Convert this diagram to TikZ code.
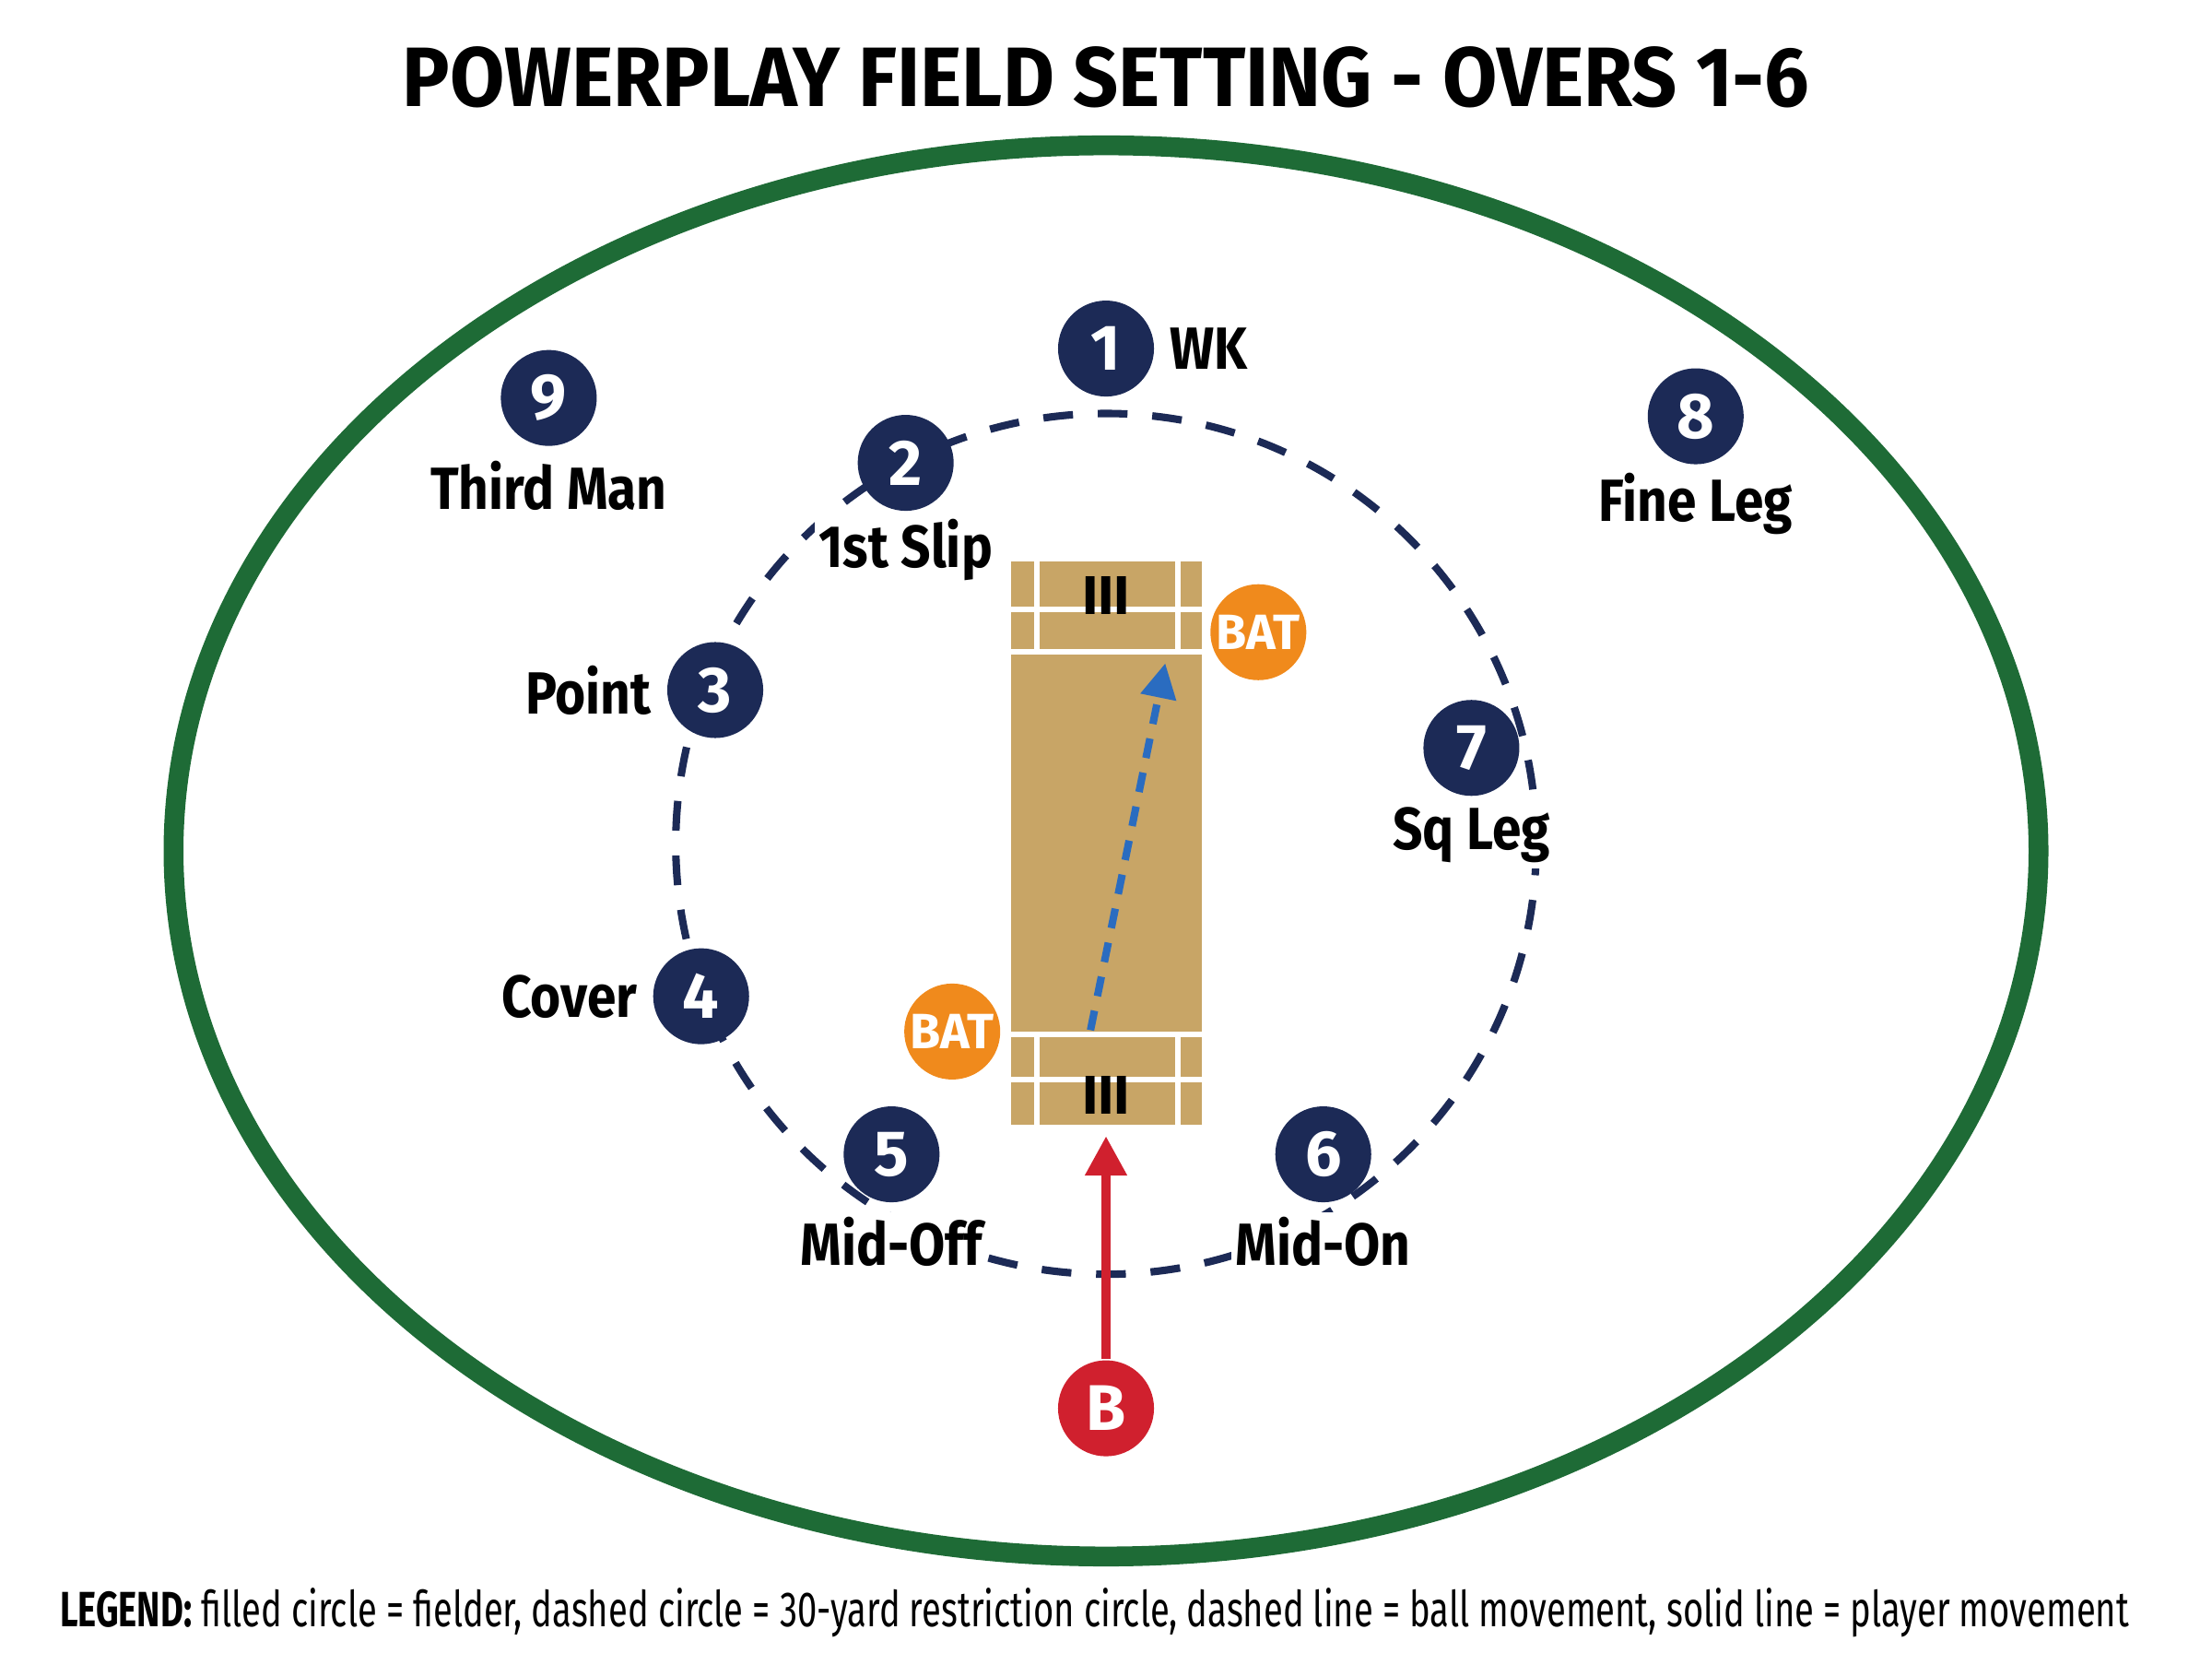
\documentclass[tikz,border=0pt]{standalone}
\usepackage{fontspec}
\setmainfont{Fira Sans}
\usetikzlibrary{arrows.meta}
\definecolor{navy}{HTML}{1C2A56}
\definecolor{field}{HTML}{1E6B36}
\definecolor{pitch}{HTML}{C8A566}
\definecolor{batc}{HTML}{F08A1C}
\definecolor{bowl}{HTML}{D0202E}
\definecolor{ballc}{HTML}{2A6CC0}
\tikzset{
    fielder/.style={shape=circle, fill=navy, text=white, minimum size=0.68cm, inner sep=0pt, font=\bfseries\fontsize{13}{13}\selectfont},
    bat/.style={shape=circle, fill=batc, text=white, minimum size=0.68cm, inner sep=0pt, font=\bfseries\fontsize{10}{10}\selectfont},
    poslabel/.style={fill=white, inner sep=1pt, xscale=0.88, font=\bfseries\fontsize{12}{12}\selectfont},
    crease/.style={white, line width=1.2pt}
}
\begin{document}
\begin{tikzpicture}[x=1cm,y=1cm]
    \useasboundingbox (0,0) rectangle (15.68,-11.71);

    % title
    \node[xscale=0.94, font=\bfseries\fontsize{17}{17}\selectfont] (title) at (7.84,-0.55) {POWERPLAY FIELD SETTING - OVERS 1-6};

    % boundary and 30-yard circle
    \draw[field, line width=4pt] (7.84,-6.03) ellipse (6.61 and 5.0);
    \draw[navy, line width=1.5pt, dash pattern=on 6pt off 5pt] (7.84,-5.98) circle (3.05);

    % pitch
    \fill[pitch] (7.17,-3.98) rectangle (8.52,-7.97);
    \draw[crease] (7.17,-4.32) -- (8.52,-4.32);
    \draw[crease] (7.17,-4.62) -- (8.52,-4.62);
    \draw[crease] (7.35,-3.98) -- (7.35,-4.62);
    \draw[crease] (8.35,-3.98) -- (8.35,-4.62);
    \draw[crease] (7.17,-7.33) -- (8.52,-7.33);
    \draw[crease] (7.17,-7.65) -- (8.52,-7.65);
    \draw[crease] (7.35,-7.33) -- (7.35,-7.97);
    \draw[crease] (8.35,-7.33) -- (8.35,-7.97);
    \node[font=\bfseries\fontsize{11}{11}\selectfont] (stumpsA) at (7.84,-4.22) {III};
    \node[font=\bfseries\fontsize{11}{11}\selectfont] (stumpsB) at (7.84,-7.76) {III};

    % fielders
    \node[fielder] (f1) at (7.84,-2.47) {1};
    \node[fielder] (f2) at (6.42,-3.28) {2};
    \node[fielder] (f3) at (5.07,-4.89) {3};
    \node[fielder] (f4) at (4.97,-7.06) {4};
    \node[fielder] (f5) at (6.32,-8.18) {5};
    \node[fielder] (f6) at (9.38,-8.18) {6};
    \node[fielder] (f7) at (10.43,-5.30) {7};
    \node[fielder] (f8) at (12.02,-2.95) {8};
    \node[fielder] (f9) at (3.89,-2.82) {9};

    \node[poslabel, anchor=west] (l1) at ([xshift=2pt]f1.east) {WK};
    \node[poslabel] (l2) at (6.42,-3.90) {1st Slip};
    \node[poslabel, anchor=east] (l3) at ([xshift=-2pt]f3.west) {Point};
    \node[poslabel, anchor=east] (l4) at ([xshift=-2pt]f4.west) {Cover};
    \node[poslabel] (l5) at (6.32,-8.80) {Mid-Off};
    \node[poslabel] (l6) at (9.38,-8.80) {Mid-On};
    \node[poslabel] (l7) at (10.43,-5.92) {Sq Leg};
    \node[poslabel] (l8) at (12.02,-3.57) {Fine Leg};
    \node[poslabel] (l9) at (3.89,-3.44) {Third Man};

    % batsmen and bowler
    \node[bat] (bat1) at (8.92,-4.48) {BAT};
    \node[bat] (bat2) at (6.75,-7.31) {BAT};
    \node[fielder, fill=bowl] (bowler) at (7.84,-9.98) {B};
    \coordinate (release) at (7.73,-7.30);
    \coordinate (target) at (8.26,-4.70);
    \coordinate (crease) at (7.84,-8.05);

    \draw[bowl, line width=2pt, -{Triangle[length=8pt,width=8pt]}] (bowler) -- (crease);
    \draw[ballc, line width=1.5pt, dash pattern=on 4pt off 3pt, -{Triangle[length=7pt,width=7pt]}] (release) -- (target);

    % legend
    \node[anchor=west, xscale=0.71, inner sep=0pt, font=\fontsize{10}{10}\selectfont] (legend) at (0.42,-11.43) {\textbf{LEGEND:} filled circle = fielder, dashed circle = 30-yard restriction circle, dashed line = ball movement, solid line = player movement};
\end{tikzpicture}
\end{document}
